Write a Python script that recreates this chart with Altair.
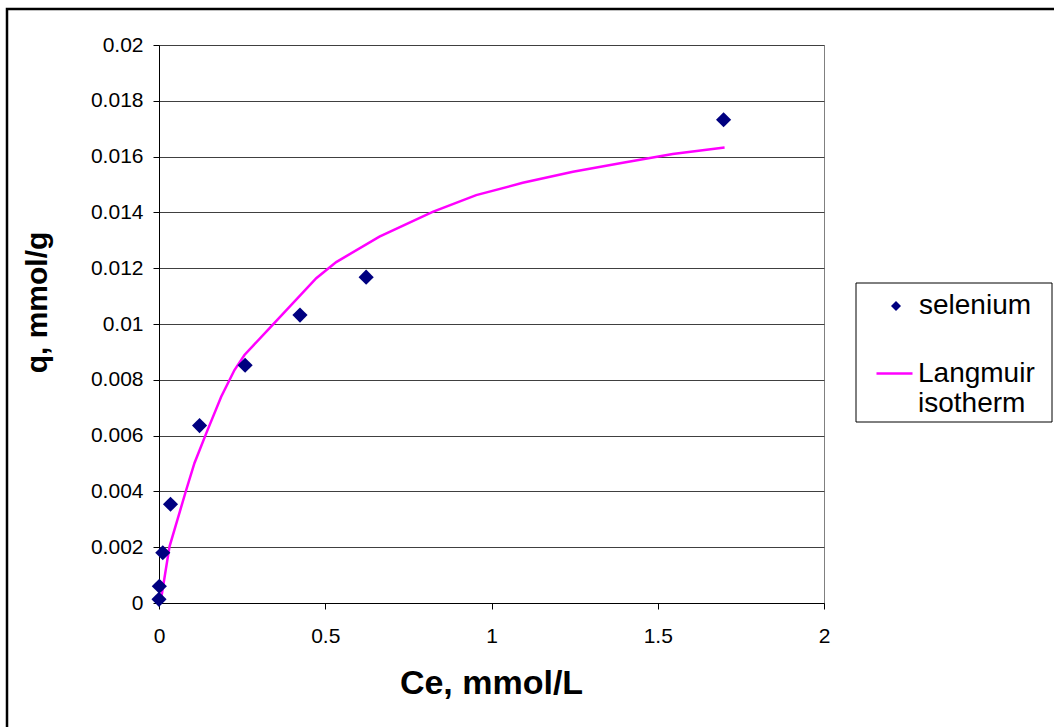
import altair as alt
import pandas as pd

# Observed data (selenium)
ce_obs = [0.0, 0.001, 0.0114, 0.0346, 0.122, 0.259, 0.424, 0.623, 1.698]
q_obs = [0.00013, 0.0006, 0.0018, 0.00354, 0.00636, 0.00852, 0.01032, 0.01168, 0.01732]

# Langmuir isotherm curve
ce_fit = [0.001, 0.0066, 0.0316, 0.0818, 0.1068, 0.142, 0.187, 0.227, 0.257, 0.327,
          0.473, 0.533, 0.663, 0.823, 0.954, 1.094, 1.245, 1.395, 1.545, 1.701]
q_fit = [0.00006, 0.00017, 0.00202, 0.00405, 0.00502, 0.00608, 0.00739, 0.00835, 0.00889, 0.00978,
         0.01164, 0.01222, 0.01313, 0.01402, 0.01462, 0.01506, 0.01546, 0.01578, 0.01609, 0.01633]

obs_name = "selenium"
fit_name = "Langmuir isotherm"
obs_color = "#000080"
fit_color = "#FF00FF"

obs = pd.DataFrame({"Ce": ce_obs, "q": q_obs, "series": obs_name})
fit = pd.DataFrame({"Ce": ce_fit, "q": q_fit, "series": fit_name, "order": list(range(len(ce_fit)))})

FONT = "Liberation Sans"

x_enc = alt.X("Ce:Q", scale=alt.Scale(domain=[0, 2], nice=False, zero=True),
              axis=alt.Axis(values=[0, 0.5, 1, 1.5, 2], format="~g", title="Ce, mmol/L",
                            grid=False, tickSize=6, labelPadding=16, labelFlush=False,
                            titleX=332, titleY=80, titleBaseline="middle", titleAlign="center"))
y_enc = alt.Y("q:Q", scale=alt.Scale(domain=[0, 0.02], nice=False),
              axis=alt.Axis(values=[0, 0.002, 0.004, 0.006, 0.008, 0.01, 0.012, 0.014, 0.016, 0.018, 0.02],
                            format="~g", title="q, mmol/g", grid=True, tickSize=6, labelPadding=10,
                            labelFlush=False,
                            titleX=-122, titleY=257, titleAngle=270, titleBaseline="middle",
                            titleAlign="center"))

legend_obs = alt.Legend(
    title=None, orient="none", legendX=723, legendY=247,
    labelFontSize=28, labelFont=FONT, labelColor="black", labelOffset=9,
    padding=0, symbolType="diamond", symbolSize=100, symbolFillColor=obs_color,
    symbolStrokeWidth=0, labelBaseline="middle"
)
legend_fit = alt.Legend(
    title=None, orient="none", legendX=716, legendY=309,
    labelExpr="split(datum.label, ' ')",
    labelFontSize=28, labelFont=FONT, labelColor="black", labelOffset=4,
    padding=0, symbolType="stroke", symbolSize=1296, symbolStrokeWidth=2.5,
    labelBaseline="middle", labelLimit=300
)

frame = alt.Chart(pd.DataFrame({"a": [0]})).mark_rect(
    fill="transparent", stroke="black", strokeWidth=2.5
).encode(x=alt.value(-152), x2=alt.value(1000), y=alt.value(-36), y2=alt.value(800))

legend_box = alt.Chart(pd.DataFrame({"a": [0]})).mark_rect(
    fill="white", stroke="black", strokeWidth=1
).encode(x=alt.value(697), x2=alt.value(893), y=alt.value(238), y2=alt.value(377))

line = alt.Chart(fit).mark_line(strokeWidth=2.5).encode(
    x=x_enc, y=y_enc, order="order:Q",
    stroke=alt.Stroke("series:N", scale=alt.Scale(domain=[fit_name], range=[fit_color]), legend=legend_fit)
)

points = alt.Chart(obs).mark_point(filled=True, shape="diamond", size=230, opacity=1).encode(
    x=x_enc, y=y_enc,
    fill=alt.Fill("series:N", scale=alt.Scale(domain=[obs_name], range=[obs_color]), legend=legend_obs)
)

chart = alt.layer(frame, legend_box, line, points).properties(
    width=665, height=558,
    autosize=alt.AutoSizeParams(type="none"),
    padding={"left": 159, "top": 45, "right": 230, "bottom": 124},
    background="white"
).configure_view(
    stroke="#808080", strokeWidth=1
).configure_axis(
    labelFont=FONT, labelFontSize=21, labelColor="black",
    titleFont=FONT, titleFontSize=34, titleFontWeight="bold", titleColor="black",
    domainColor="black", tickColor="black", gridColor="#404040", gridWidth=1,
    domainWidth=1, tickWidth=1
).configure_axisY(
    titleFontSize=30
)

chart.save("out.html", embed_options={"renderer": "svg", "actions": False})
